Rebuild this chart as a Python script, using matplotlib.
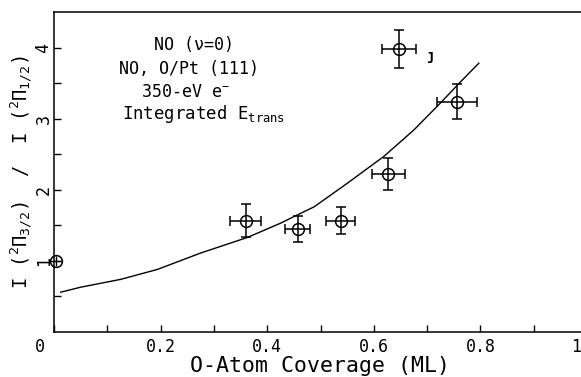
import numpy as np
import matplotlib
matplotlib.use("Agg")
import matplotlib.pyplot as plt
import matplotlib.transforms as mtransforms

plt.rcParams['font.family'] = ['DejaVu Sans Mono', 'DejaVu Sans']
plt.rcParams['mathtext.fontset'] = 'custom'
plt.rcParams['mathtext.rm'] = 'DejaVu Sans Mono'
plt.rcParams['mathtext.it'] = 'DejaVu Sans Mono'
plt.rcParams['mathtext.sf'] = 'DejaVu Sans Mono'

# data points
cov = [0.36, 0.457, 0.538, 0.627, 0.647, 0.757]
ratio = [1.567, 1.45, 1.567, 2.22, 3.98, 3.24]
cov_err = [0.029, 0.024, 0.027, 0.031, 0.032, 0.0375]
ratio_err = [0.235, 0.18, 0.19, 0.22, 0.27, 0.25]

# clean surface point (on the axis)
cov0 = [0.003]
ratio0 = [1.0]

# fitted curve
fit_x = [0.0126, 0.050, 0.125, 0.194, 0.275, 0.363, 0.425, 0.463, 0.488,
         0.550, 0.619, 0.675, 0.725, 0.763, 0.797]
fit_y = [0.56, 0.63, 0.74, 0.88, 1.11, 1.33, 1.53, 1.67, 1.76,
         2.09, 2.47, 2.84, 3.22, 3.52, 3.78]

xticks = [0, 0.2, 0.4, 0.6, 0.8, 1.0]
xticklabels = ["0", "0.2", "0.4", "0.6", "0.8", "1"]
yticks = [1, 2, 3, 4]

fig = plt.figure(figsize=(5.81, 3.77), dpi=100)
ax = fig.add_axes([54 / 581, 45 / 377, 533 / 581, 320 / 377])

ax.plot(fit_x, fit_y, color="black", lw=1.0)
ax.errorbar(cov, ratio, xerr=cov_err, yerr=ratio_err, fmt="o", mfc="none",
            mec="black", ms=8.5, mew=1.1, ecolor="black", elinewidth=1.1,
            capsize=3.3, capthick=1.1)
ax.errorbar(cov0, ratio0, xerr=0.012, yerr=0.07, fmt="o", mfc="none",
            mec="black", ms=8.5, mew=1.1, ecolor="black", elinewidth=1.0,
            capsize=0, clip_on=False)

ax.set_xlim(0, 1)
ax.set_ylim(0, 4.5)
ax.set_xticks(xticks)
ax.set_xticklabels(xticklabels)
ax.set_xticks(np.arange(0.1, 1.0, 0.2), minor=True)
ax.set_yticks(yticks)
ax.set_yticks([0.5, 1.5, 2.5, 3.5], minor=True)
ax.tick_params(which="both", direction="in", length=5, width=1.0,
               labelsize=12)
ax.tick_params(axis="x", pad=4)
ax.tick_params(axis="y", pad=1)
for lab in ax.get_yticklabels():
    lab.set_rotation(90)
    lab.set_va("center")

# nudge the end labels like the original
xl = ax.get_xticklabels()
xl[0].set_transform(xl[0].get_transform() + mtransforms.ScaledTranslation(-14 / 100, 0, fig.dpi_scale_trans))
xl[-1].set_transform(xl[-1].get_transform() + mtransforms.ScaledTranslation(-11 / 100, 0, fig.dpi_scale_trans))

for s in ax.spines.values():
    s.set_linewidth(1.1)
ax.spines["right"].set_visible(False)

ax.set_xlabel("O-Atom Coverage (ML)", fontsize=15.5, labelpad=0)
ax.set_ylabel(r"I ($^2\Pi_{3/2}$)  /  I ($^2\Pi_{1/2}$)", fontsize=13.5, labelpad=0)

ax.text(0.262, 4.04, "NO (ν=0)", fontsize=12, ha="center", va="center")
ax.text(0.254, 3.70, "NO, O/Pt (111)", fontsize=12, ha="center", va="center")
ax.text(0.247, 3.37, r"350-eV e$^{-}$", fontsize=12, ha="center", va="center")
ax.text(0.281, 3.07, r"Integrated E$_{\rm trans}$", fontsize=12.5, ha="center", va="center")
ax.text(0.705, 3.88, "ȷ", fontsize=10, fontweight="bold", ha="center", va="center")

fig.savefig("out.png", dpi=100)
